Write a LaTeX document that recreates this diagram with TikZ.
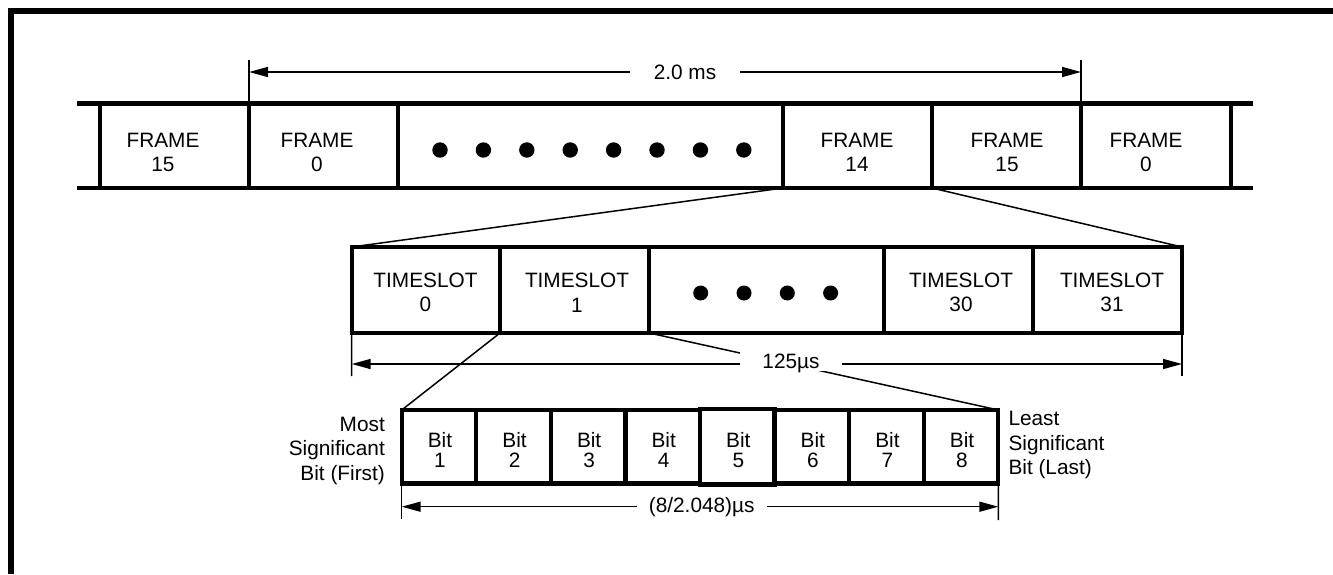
\documentclass[tikz,border=0pt]{standalone}
\usepackage{fontspec}
\newfontfamily\lbf{Liberation Sans}
\usetikzlibrary{arrows.meta}
\begin{document}
\begin{tikzpicture}[x=1pt,y=-1pt,
  heavy/.style={line width=4.2pt},
  fine/.style={line width=1.5pt},
  cell/.style={draw, line width=4.2pt, inner sep=0pt, outer sep=0pt},
  frow/.style={cell, minimum height=84.5pt},
  trow/.style={cell, minimum height=86pt},
  brow/.style={cell, minimum width=74.575pt},
  txt/.style={font=\lbf\fontsize{20.8}{24.5}\selectfont, align=center, inner sep=0pt},
  bittxt/.style={font=\lbf\fontsize{20.8}{20}\selectfont, align=center, inner sep=0pt},
  dim/.style={line width=1.5pt, {Triangle[length=19pt,width=10pt]}-{Triangle[length=19pt,width=10pt]}},
  dimlbl/.style={font=\lbf\fontsize{20.8}{24.5}\selectfont, fill=white, inner ysep=2pt, text depth=0pt}
]
\useasboundingbox (0,0) rectangle (1333,574);
% outer frame
\draw[line width=5.7pt] (11,574) -- (11,11) -- (1333,11);

% ---------- frame row ----------
\node[frow, minimum width=149pt] (fA) at (174.5,145.75) {};
\node[frow, minimum width=149pt] (fB) at (323.5,145.75) {};
\node[frow, minimum width=385pt] (fDots) at (590.5,145.75) {};
\node[frow, minimum width=149pt] (fC) at (857.5,145.75) {};
\node[frow, minimum width=149pt] (fD) at (1006.5,145.75) {};
\node[frow, minimum width=150pt] (fE) at (1156,145.75) {};
\draw[heavy] (fA.north west) -- ++(-23,0);
\draw[heavy] (fA.south west) -- ++(-23,0);
\draw[heavy] (fE.north east) -- ++(22,0);
\draw[heavy] (fE.south east) -- ++(22,0);
\node[txt] (lfA) at (163,152.5) {FRAME\\15};
\node[txt] (lfB) at (317,152.5) {FRAME\\0};
\node[txt] (lfC) at (857,152.5) {FRAME\\14};
\node[txt] (lfD) at (1007,152.5) {FRAME\\15};
\node[txt] (lfE) at (1146,152.5) {FRAME\\0};
\foreach \i in {0,...,7} \fill ({440+43.4*\i},150) circle[radius=7.7pt];

% ---------- timeslot row ----------
\node[trow, minimum width=148.3pt] (t0) at (425.85,290) {};
\node[trow, minimum width=149.3pt] (t1) at (574.65,290) {};
\node[trow, minimum width=234.7pt] (tDots) at (766.65,290) {};
\node[trow, minimum width=149pt] (t30) at (958.5,290) {};
\node[trow, minimum width=149pt] (t31) at (1107.5,290) {};
\node[txt] (lt0) at (425.5,292.5) {TIMESLOT\\0};
\node[txt] (lt1) at (577,292.5) {TIMESLOT\\1};
\node[txt] (lt30) at (961,292.5) {TIMESLOT\\30};
\node[txt] (lt31) at (1112,292.5) {TIMESLOT\\31};
\foreach \i in {0,...,3} \fill ({700.7+43.3*\i},293) circle[radius=7.5pt];

% ---------- bit row ----------
\foreach \i/\h in {1/73.5,2/73.5,3/73.5,4/73.5,5/75.5,6/73.5,7/73.5,8/73.5}
  \node[brow, minimum height=\h pt] (b\i) at ({401.7+74.575*(\i-0.5)},446.75) {};
\foreach \i in {1,...,8}
  \node[bittxt] (lb\i) at ({401.7+74.575*(\i-0.5)+1},449.8) {Bit\\\i};

% ---------- expansion connectors ----------
\draw[fine] (fC.south west) -- (t0.north west);
\draw[fine] (fC.south east) -- (t31.north east);
\draw[fine] (t1.south west) -- (b1.north west);
\draw[fine] (t1.south east) -- (b8.north east);

% ---------- dimension 2.0 ms ----------
\coordinate (e1t) at (249,60);
\coordinate (e2t) at (1081,60);
\draw[fine] (e1t) -- (fB.north west);
\draw[fine] (e2t) -- (fE.north west);
\coordinate (d1L) at (249,72);
\coordinate (d1R) at (1081,72);
\draw[dim] (d1L) -- (d1R);
\node[dimlbl, inner xsep=23.8pt] (l20) at (685,72) {2.0 ms};

% ---------- dimension 125 us ----------
\coordinate (e3b) at (351.7,376);
\coordinate (e4b) at (1182,376);
\draw[fine] (t0.south west) -- (e3b);
\draw[fine] (t31.south east) -- (e4b);
\coordinate (d2L) at (351.7,364);
\coordinate (d2R) at (1182,364);
\draw[dim] (d2L) -- (d2R);
\node[dimlbl, inner xsep=22.5pt] (l125) at (791,361.5) {125µs};

% ---------- dimension bits ----------
\coordinate (e5b) at (401.7,519);
\coordinate (e6b) at (998.3,520);
\draw[fine] (b1.south west) -- (e5b);
\draw[fine] (b8.south east) -- (e6b);
\coordinate (d3L) at (401.7,506.7);
\coordinate (d3R) at (998.3,506.7);
\draw[dim] (d3L) -- (d3R);
\node[dimlbl, inner xsep=12.2pt] (lbits) at (701.7,505.4) {(8/2.048)µs};

% ---------- side labels ----------
\node[txt, align=right, anchor=east] (msb) at (385,450.9) {Most\\Significant\\Bit (First)};
\node[txt, align=left, anchor=west] (lsb) at (1008.3,445.2) {Least\\Significant\\Bit (Last)};
\end{tikzpicture}
\end{document}
